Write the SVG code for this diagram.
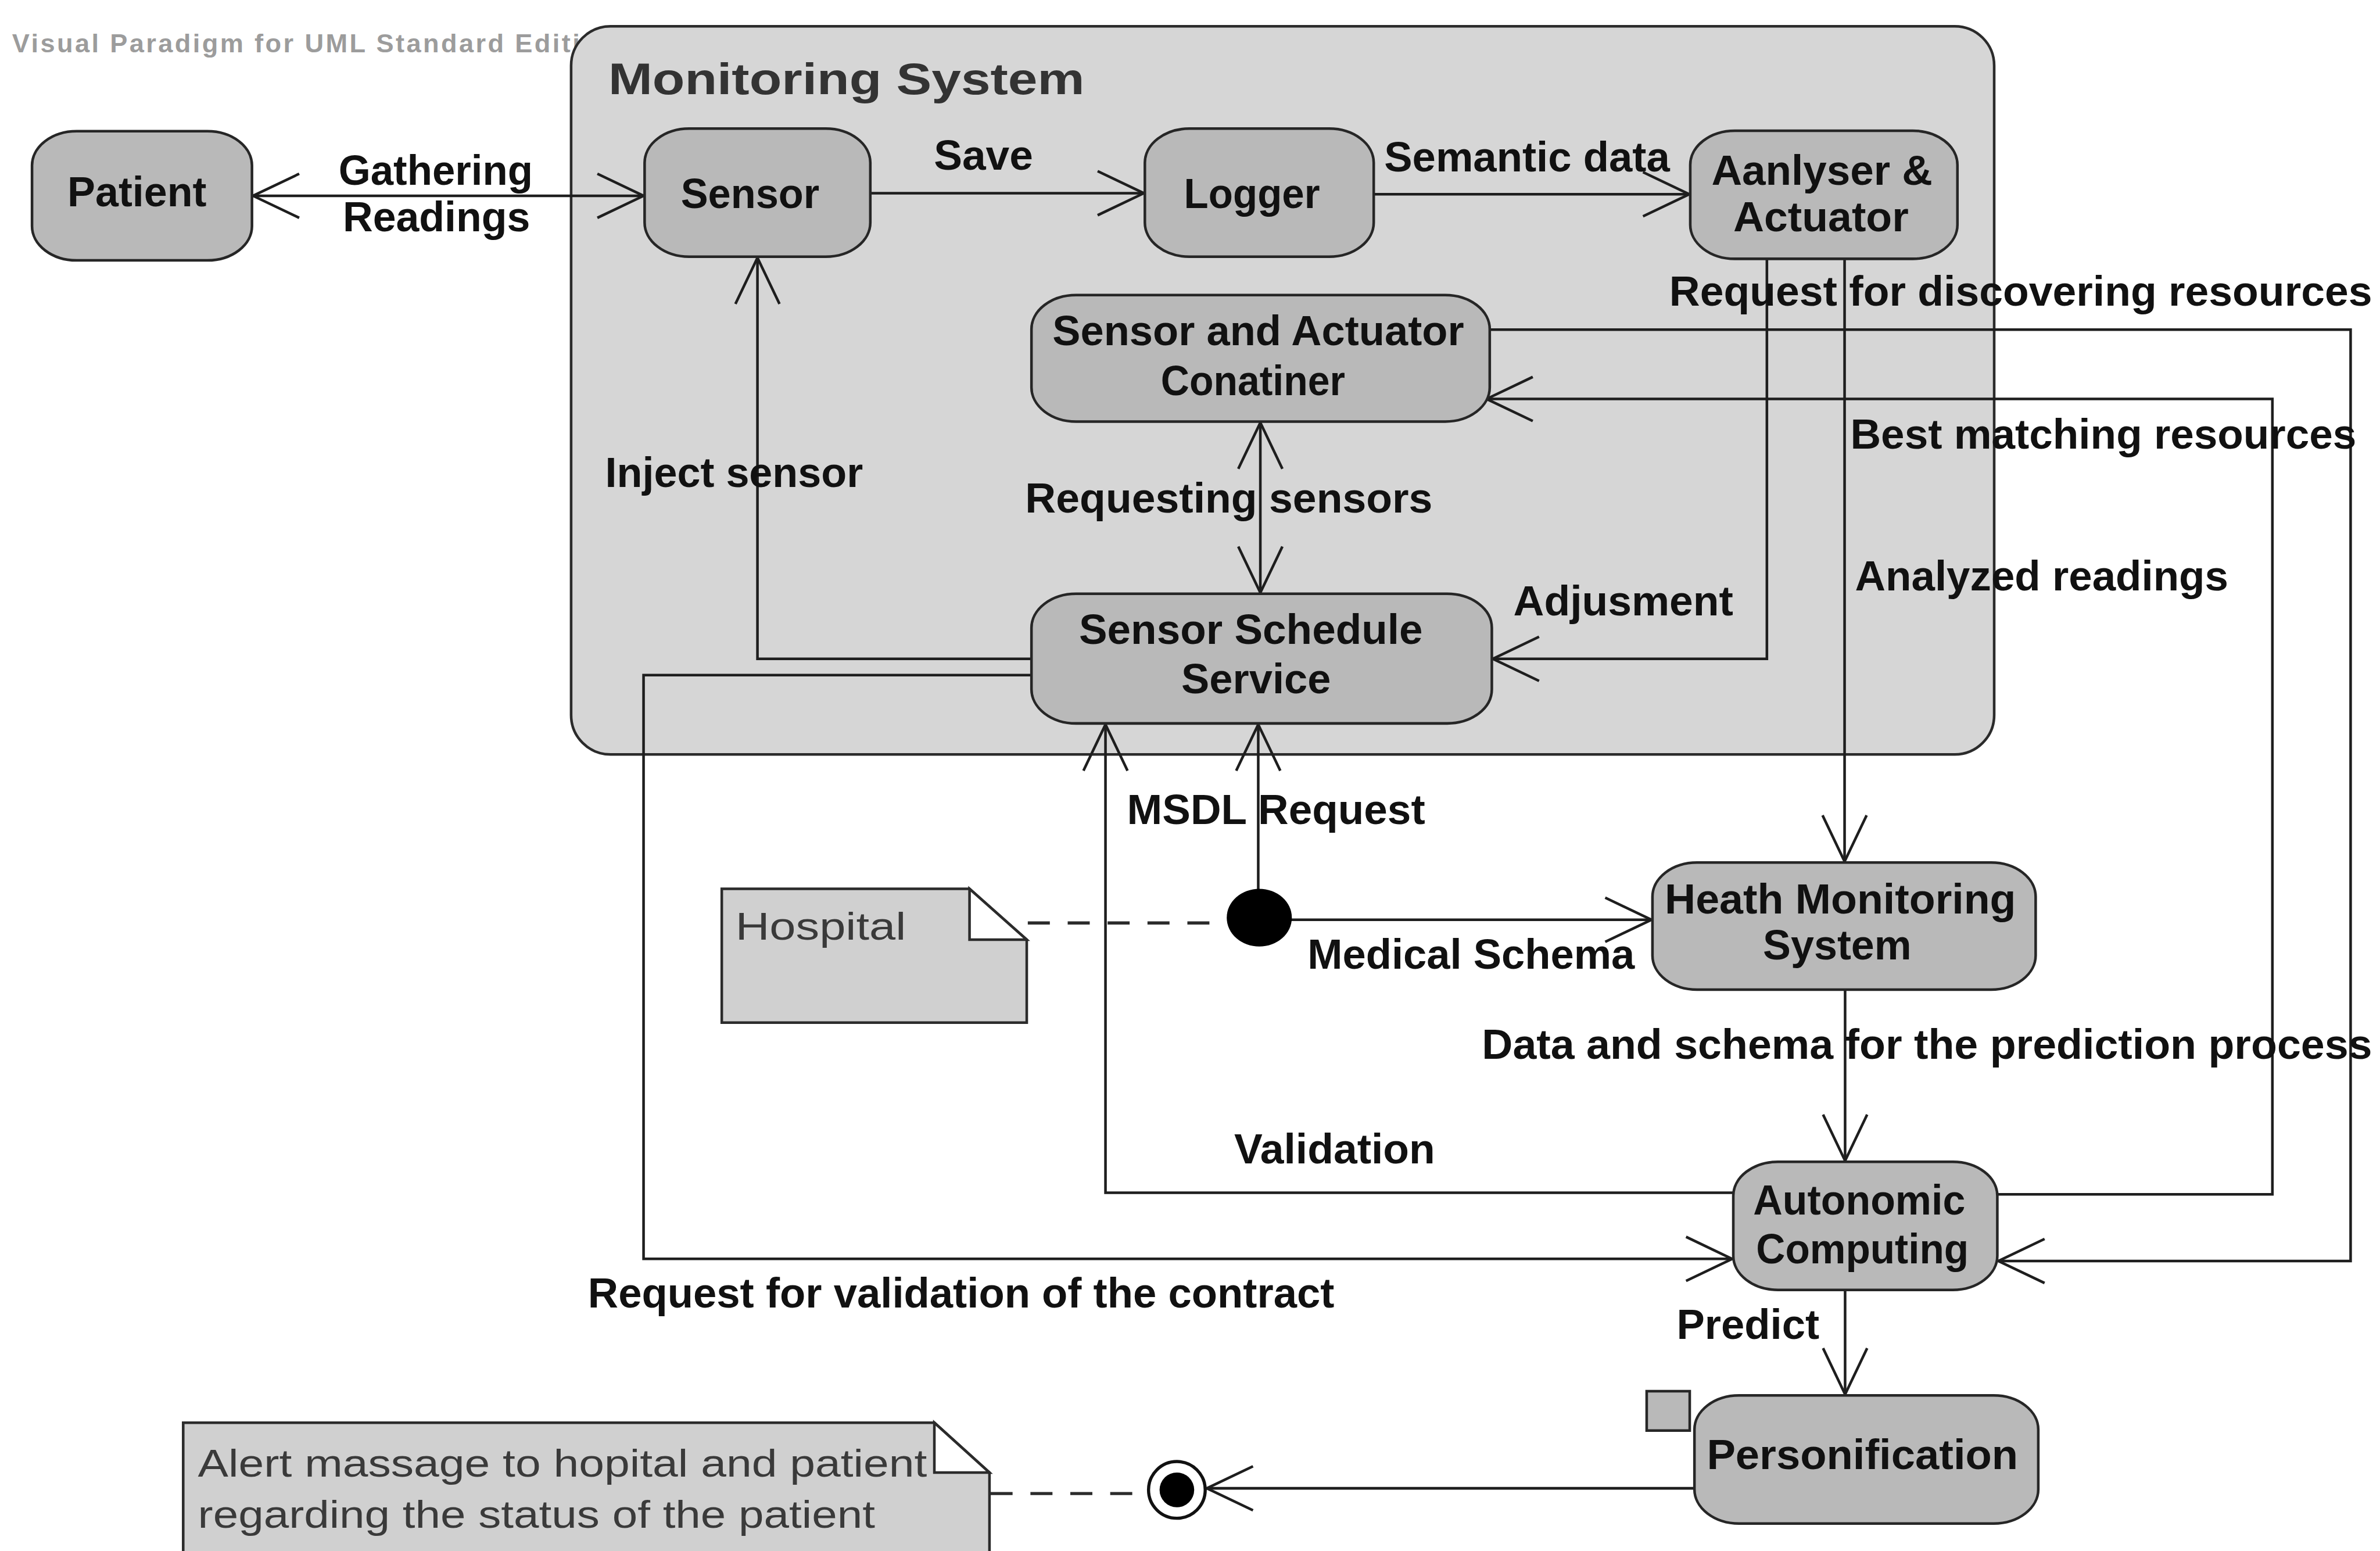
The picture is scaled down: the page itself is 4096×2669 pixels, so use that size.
<svg xmlns="http://www.w3.org/2000/svg" width="4096" height="2669" viewBox="0 0 4096 2669">
  <defs>
    <style>
      .frame { fill:#d6d6d6; stroke:#2b2b2b; stroke-width:5; }
      .node { fill:#b9b9b9; stroke:#262626; stroke-width:5; }
      .note { fill:#d0d0d0; stroke:#2b2b2b; stroke-width:5; }
      .flap { fill:#ffffff; stroke:#2b2b2b; stroke-width:5; }
      .edge { fill:none; stroke:#1e1e1e; stroke-width:5; }
      .dash { fill:none; stroke:#2b2b2b; stroke-width:6; stroke-dasharray:42 34; }
      .lbl { font-family:"Liberation Sans", Arial, sans-serif; font-weight:bold; font-size:80px; fill:#111; }
      .nl { text-anchor:middle; }
      .ntext { font-family:"Liberation Sans", Arial, sans-serif; font-size:74px; fill:#3a3a3a; }
      .title { font-family:"Liberation Sans", Arial, sans-serif; font-weight:bold; font-size:84px; fill:#333; }
      .wm { font-family:"Liberation Sans", Arial, sans-serif; font-weight:bold; font-size:50px; fill:#9c9c9c; }
    </style>
    <marker id="open" viewBox="-95 -48 100 96" refX="0" refY="0" markerWidth="100" markerHeight="96" markerUnits="userSpaceOnUse" orient="auto-start-reverse">
      <path d="M -88 -42 L 0 0 L -88 42" fill="none" stroke="#1e1e1e" stroke-width="5"/>
    </marker>
  </defs>
  <rect x="0" y="0" width="4096" height="2669" fill="#ffffff"/>

  <g transform="scale(0.903397)">
    <!-- editor watermark (partly hidden by the frame) -->
    <text class="wm" x="23" y="100" textLength="1150" lengthAdjust="spacing">Visual Paradigm for UML Standard Edition</text>

    <!-- system boundary -->
    <g id="monitoring-system">
      <rect class="frame" x="1088" y="50" width="2711" height="1387" rx="75" ry="75"/>
      <text class="title" x="1159" y="179" textLength="907" lengthAdjust="spacingAndGlyphs">Monitoring System</text>
    </g>

    <!-- connectors -->
    <g id="connectors">
      <!-- Patient <-> Sensor -->
      <path class="edge" d="M 482 373 H 1226" marker-start="url(#open)" marker-end="url(#open)"/>
      <!-- Sensor -> Logger -->
      <path class="edge" d="M 1658 368 H 2179" marker-end="url(#open)"/>
      <!-- Logger -> Analyser -->
      <path class="edge" d="M 2617 370 H 3218" marker-end="url(#open)"/>
      <!-- Analyser -> Sensor Schedule Service (adjustment) -->
      <path class="edge" d="M 3366 493 V 1255 H 2844" marker-end="url(#open)"/>
      <!-- Analyser -> Health Monitoring System -->
      <path class="edge" d="M 3514 493 V 1641" marker-end="url(#open)"/>
      <!-- Container <-> Schedule Service -->
      <path class="edge" d="M 2401 805 V 1129" marker-start="url(#open)" marker-end="url(#open)"/>
      <!-- Schedule Service -> Sensor (inject) -->
      <path class="edge" d="M 1965 1255 H 1443 V 491" marker-end="url(#open)"/>
      <!-- Container -> Autonomic Computing (discover resources) -->
      <path class="edge" d="M 2838 628 H 4478 V 2402 H 3807" marker-end="url(#open)"/>
      <!-- Autonomic Computing -> Container (best matching) -->
      <path class="edge" d="M 3805 2275 H 4329 V 760 H 2832" marker-end="url(#open)"/>
      <!-- Schedule Service -> Autonomic Computing (contract validation) -->
      <path class="edge" d="M 1965 1286 H 1226 V 2398 H 3300" marker-end="url(#open)"/>
      <!-- Autonomic Computing -> Schedule Service (validation) -->
      <path class="edge" d="M 3304 2272 H 2106 V 1380" marker-end="url(#open)"/>
      <!-- fork -> Schedule Service (MSDL) -->
      <path class="edge" d="M 2397 1695 V 1380" marker-end="url(#open)"/>
      <!-- fork -> Health Monitoring System -->
      <path class="edge" d="M 2459 1752 H 3146" marker-end="url(#open)"/>
      <!-- Health Monitoring -> Autonomic Computing -->
      <path class="edge" d="M 3515 1885 V 2211" marker-end="url(#open)"/>
      <!-- Autonomic Computing -> Personification -->
      <path class="edge" d="M 3515 2457 V 2656" marker-end="url(#open)"/>
      <!-- Personification -> final node -->
      <path class="edge" d="M 3228 2835 H 2299" marker-end="url(#open)"/>
      <!-- note anchors -->
      <path class="dash" d="M 1958 1758 H 2336"/>
      <path class="dash" d="M 1887 2845 H 2186"/>
    </g>

    <!-- connector labels -->
    <g id="edge-labels">
      <text class="lbl" x="645" y="352" textLength="370" lengthAdjust="spacingAndGlyphs">Gathering</text>
      <text class="lbl" x="653" y="441" textLength="357" lengthAdjust="spacingAndGlyphs">Readings</text>
      <text class="lbl" x="1779" y="323" textLength="189" lengthAdjust="spacingAndGlyphs">Save</text>
      <text class="lbl" x="2637" y="327" textLength="544" lengthAdjust="spacingAndGlyphs">Semantic data</text>
      <text class="lbl" x="3180" y="582" textLength="1339" lengthAdjust="spacingAndGlyphs">Request for discovering resources</text>
      <text class="lbl" x="3525" y="854" textLength="964" lengthAdjust="spacingAndGlyphs">Best matching resources</text>
      <text class="lbl" x="3534" y="1125" textLength="711" lengthAdjust="spacingAndGlyphs">Analyzed readings</text>
      <text class="lbl" x="1153" y="928" textLength="491" lengthAdjust="spacingAndGlyphs">Inject sensor</text>
      <text class="lbl" x="1953" y="976" textLength="776" lengthAdjust="spacingAndGlyphs">Requesting sensors</text>
      <text class="lbl" x="2883" y="1172" textLength="419" lengthAdjust="spacingAndGlyphs">Adjusment</text>
      <text class="lbl" x="2147" y="1570" textLength="568" lengthAdjust="spacingAndGlyphs">MSDL Request</text>
      <text class="lbl" x="2491" y="1845" textLength="623" lengthAdjust="spacingAndGlyphs">Medical Schema</text>
      <text class="lbl" x="2823" y="2017" textLength="1696" lengthAdjust="spacingAndGlyphs">Data and schema for the prediction process</text>
      <text class="lbl" x="2351" y="2216" textLength="383" lengthAdjust="spacingAndGlyphs">Validation</text>
      <text class="lbl" x="1120" y="2491" textLength="1422" lengthAdjust="spacingAndGlyphs">Request for validation of the contract</text>
      <text class="lbl" x="3194" y="2550" textLength="272" lengthAdjust="spacingAndGlyphs">Predict</text>
    </g>

    <!-- action nodes -->
    <g id="patient">
      <rect class="node" x="61" y="250" width="419" height="246" rx="85" ry="65"/>
      <text class="lbl nl" x="261" y="393" textLength="265" lengthAdjust="spacingAndGlyphs">Patient</text>
    </g>
    <g id="sensor">
      <rect class="node" x="1228" y="245" width="430" height="244" rx="85" ry="65"/>
      <text class="lbl nl" x="1429" y="396" textLength="264" lengthAdjust="spacingAndGlyphs">Sensor</text>
    </g>
    <g id="logger">
      <rect class="node" x="2181" y="245" width="436" height="244" rx="85" ry="65"/>
      <text class="lbl nl" x="2385" y="396" textLength="259" lengthAdjust="spacingAndGlyphs">Logger</text>
    </g>
    <g id="analyser-actuator">
      <rect class="node" x="3220" y="249" width="509" height="244" rx="85" ry="65"/>
      <text class="lbl nl" x="3471" y="352" textLength="421" lengthAdjust="spacingAndGlyphs">Aanlyser &amp;</text>
      <text class="lbl nl" x="3469" y="441" textLength="334" lengthAdjust="spacingAndGlyphs">Actuator</text>
    </g>
    <g id="sensor-actuator-container">
      <rect class="node" x="1965" y="562" width="873" height="241" rx="85" ry="65"/>
      <text class="lbl nl" x="2397" y="658" textLength="784" lengthAdjust="spacingAndGlyphs">Sensor and Actuator</text>
      <text class="lbl nl" x="2387" y="753" textLength="351" lengthAdjust="spacingAndGlyphs">Conatiner</text>
    </g>
    <g id="sensor-schedule-service">
      <rect class="node" x="1965" y="1131" width="877" height="247" rx="85" ry="65"/>
      <text class="lbl nl" x="2383" y="1226" textLength="655" lengthAdjust="spacingAndGlyphs">Sensor Schedule</text>
      <text class="lbl nl" x="2393" y="1321" textLength="285" lengthAdjust="spacingAndGlyphs">Service</text>
    </g>
    <g id="health-monitoring-system">
      <rect class="node" x="3148" y="1643" width="730" height="242" rx="85" ry="65"/>
      <text class="lbl nl" x="3506" y="1740" textLength="669" lengthAdjust="spacingAndGlyphs">Heath Monitoring</text>
      <text class="lbl nl" x="3500" y="1827" textLength="283" lengthAdjust="spacingAndGlyphs">System</text>
    </g>
    <g id="autonomic-computing">
      <rect class="node" x="3302" y="2213" width="503" height="244" rx="85" ry="65"/>
      <text class="lbl nl" x="3542" y="2313" textLength="404" lengthAdjust="spacingAndGlyphs">Autonomic</text>
      <text class="lbl nl" x="3548" y="2407" textLength="405" lengthAdjust="spacingAndGlyphs">Computing</text>
    </g>
    <g id="personification">
      <rect class="node" x="3228" y="2658" width="655" height="244" rx="85" ry="65"/>
      <text class="lbl nl" x="3548" y="2798" textLength="593" lengthAdjust="spacingAndGlyphs">Personification</text>
    </g>
    <g id="pin">
      <rect class="node" x="3137" y="2650" width="82" height="75" stroke-width="4"/>
    </g>

    <!-- control nodes -->
    <g id="fork">
      <ellipse cx="2399" cy="1748" rx="62" ry="55" fill="#000"/>
    </g>
    <g id="final">
      <circle cx="2242" cy="2838" r="54" fill="#fff" stroke="#111" stroke-width="6"/>
      <circle cx="2242" cy="2838" r="33" fill="#000"/>
    </g>

    <!-- notes -->
    <g id="hospital-note">
      <path class="note" d="M 1375 1693 H 1847 L 1956 1790 V 1948 H 1375 Z"/>
      <path class="flap" d="M 1847 1693 V 1790 H 1956 Z"/>
      <text class="ntext" x="1401" y="1790" textLength="325" lengthAdjust="spacingAndGlyphs">Hospital</text>
    </g>
    <g id="alert-note">
      <path class="note" d="M 349 2710 H 1780 L 1885 2805 V 2970 H 349 Z" fill="#d9d9d9"/>
      <path class="flap" d="M 1780 2710 V 2805 H 1885 Z"/>
      <text class="ntext" x="377" y="2813" textLength="1389" lengthAdjust="spacingAndGlyphs">Alert massage to hopital and patient</text>
      <text class="ntext" x="377" y="2910" textLength="1290" lengthAdjust="spacingAndGlyphs">regarding the status of the patient</text>
    </g>
  </g>
</svg>
